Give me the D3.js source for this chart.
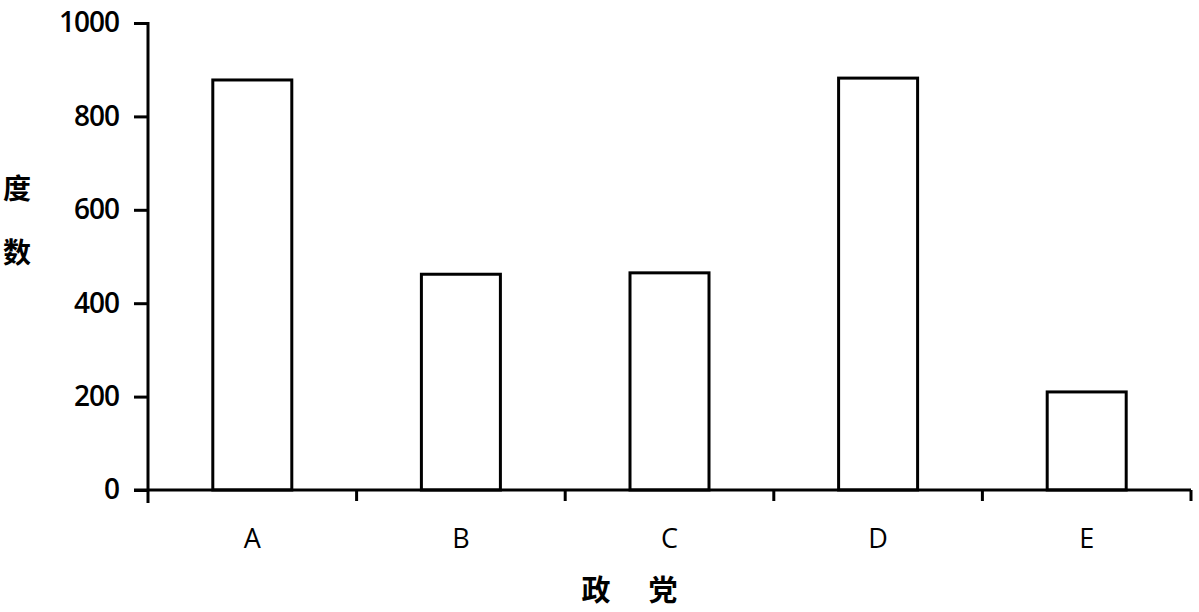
<!DOCTYPE html>
<html><head><meta charset="utf-8">
<script src="https://cdn.jsdelivr.net/npm/d3@7"></script>
<style>body{margin:0;background:#fff}svg{display:block}</style>
</head><body>
<svg id="chart" width="1199" height="612"></svg>
<script>
const categories = ["A", "B", "C", "D", "E"];
const values = [878, 462, 465, 882, 210];
const yTicks = [0, 200, 400, 600, 800, 1000];
const yLabel = ["度", "数"];
const xLabel = ["政", "党"];

const svg = d3.select("#chart");
const x = d3.scaleBand().domain(categories).range([148, 1191]).padding(0);
const y = d3.scaleLinear().domain([0, 1000]).range([490, 23]);
const barW = 79;
const font = "'Open Sans', 'DejaVu Sans', sans-serif";

// bars
svg.append("g").selectAll("rect").data(values).join("rect")
  .attr("x", (d, i) => x(categories[i]) + x.bandwidth() / 2 - barW / 2)
  .attr("y", d => y(d))
  .attr("width", barW)
  .attr("height", d => y(0) - y(d))
  .attr("fill", "#fff").attr("stroke", "#000").attr("stroke-width", 3);

// y axis
const yAxis = d3.axisLeft(y).tickValues(yTicks).tickSize(14).tickPadding(15).tickFormat(d3.format("d"));
const gy = svg.append("g").attr("transform", "translate(148,0)").call(yAxis);
gy.select(".domain").remove();
gy.selectAll(".tick line").attr("stroke", "#000").attr("stroke-width", 3);
gy.selectAll(".tick text").attr("font-family", font).attr("font-size", 28)
  .attr("font-weight", 600).attr("letter-spacing", -1).attr("fill", "#000");
svg.append("line").attr("x1", 148).attr("x2", 148).attr("y1", y(1000) - 1).attr("y2", 503)
  .attr("stroke", "#000").attr("stroke-width", 3);

// x axis
svg.append("line").attr("x1", 134).attr("x2", 1191).attr("y1", y(0)).attr("y2", y(0))
  .attr("stroke", "#000").attr("stroke-width", 3);
const bounds = categories.slice(1).map(c => x(c)).concat([x.range()[1]]);
svg.append("g").selectAll("line").data(bounds).join("line")
  .attr("x1", d => d).attr("x2", d => d).attr("y1", y(0)).attr("y2", y(0) + 11)
  .attr("stroke", "#000").attr("stroke-width", 3);
svg.append("g").selectAll("text").data(categories).join("text")
  .attr("x", d => x(d) + x.bandwidth() / 2)
  .attr("y", 548)
  .attr("text-anchor", "middle")
  .attr("font-family", font).attr("font-size", 27).attr("font-weight", 500).attr("fill", "#000")
  .text(d => d);

// axis titles
svg.append("g").selectAll("text").data(xLabel).join("text")
  .attr("x", (d, i) => 596 + i * 67).attr("y", 601).attr("text-anchor", "middle")
  .attr("font-family", "'Noto Sans CJK SC', sans-serif").attr("font-weight", "bold")
  .attr("font-size", 29).text(d => d);
svg.append("g").selectAll("text").data(yLabel).join("text")
  .attr("x", 17).attr("y", (d, i) => 199 + i * 64).attr("text-anchor", "middle")
  .attr("font-family", "'Noto Sans CJK SC', sans-serif").attr("font-weight", "bold")
  .attr("font-size", 28).text(d => d);
</script>
</body></html>
